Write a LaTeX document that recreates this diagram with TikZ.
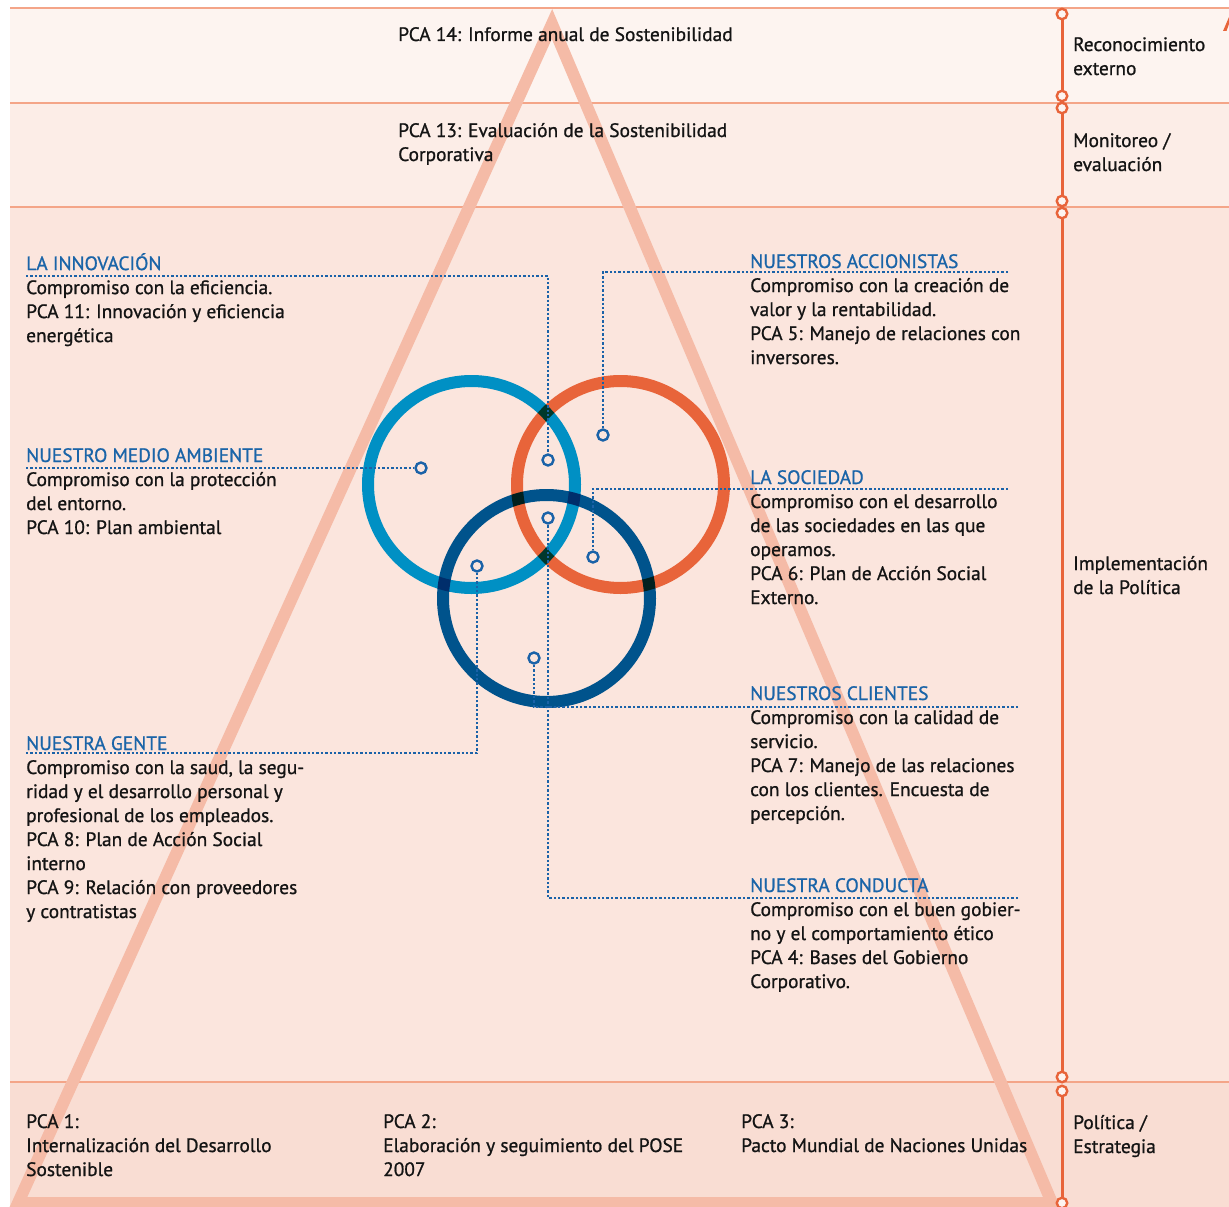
\documentclass[tikz,border=0pt]{standalone}
\usepackage{fontspec}
\setmainfont[FakeBold=0.9]{PT Sans}
\usepackage{xcolor}
\usepackage{tikz}
\usetikzlibrary{positioning,calc}

\definecolor{bandA}{HTML}{FDF4F0}
\definecolor{bandB}{HTML}{FCEDE7}
\definecolor{bandC}{HTML}{FBE5DD}
\definecolor{bandD}{HTML}{F9DDD3}
\definecolor{bandline}{HTML}{F4A588}
\definecolor{trisalmon}{HTML}{F5BBA7}
\definecolor{tlorange}{HTML}{E8643A}
\definecolor{lblue}{HTML}{0090C4}
\definecolor{corange}{HTML}{E8643A}
\definecolor{dblue}{HTML}{00538C}
\definecolor{dotblue}{HTML}{1A62A8}
\definecolor{headblue}{HTML}{1A64A8}
\definecolor{ink}{HTML}{141414}

\tikzset{
  txt/.style={anchor=north west, inner sep=0pt, align=left, text=ink,
    font=\fontsize{19.4}{24}\selectfont},
  ring/.style={circle, draw=dotblue, fill=bandC, line width=2.4pt,
    inner sep=0pt, minimum size=11pt},
  tlstop/.style={circle, draw=tlorange, fill=bandA, line width=2.4pt,
    inner sep=0pt, minimum size=10.5pt},
  conn/.style={dotblue, line width=2.4pt, dash pattern=on 2.4pt off 2pt},
  venn/.style={line width=12pt, blend mode=multiply},
}
\newcommand{\hd}[1]{\strut{\color{headblue}#1}}

\begin{document}
\begin{tikzpicture}[x=1pt,y=-1pt]
    \useasboundingbox (0,0) rectangle (1229,1207);
    \clip (0,0) rectangle (1229,1207);
    % bands
    \fill[bandA] (10,8) rectangle (1229,103);
    \fill[bandB] (10,103) rectangle (1229,207);
    \fill[bandC] (10,207) rectangle (1229,1082);
    \fill[bandD] (10,1082) rectangle (1229,1207);
    \draw[bandline, line width=2pt] (10,8) -- (1229,8);
    \foreach \y in {103,207,1082}
        \draw[bandline, line width=1.5pt] (10,\y) -- (1229,\y);
    % pyramid
    \draw[trisalmon, line width=12pt, line join=miter]
        (552,24) -- (1052,1203) -- (18,1203) -- cycle;
    % three rings
    \begin{scope}[transparency group]
        \draw[venn, lblue] (471.5,484.5) circle[radius=103.5pt];
        \draw[venn, corange] (620.5,484.5) circle[radius=103.5pt];
        \draw[venn, dblue] (546.5,598.5) circle[radius=103.5pt];
    \end{scope}
    % markers
    \node[ring] (mAmb) at (421,468) {};
    \node[ring] (mInno) at (548,460) {};
    \node[ring] (mAcc) at (603,435) {};
    \node[ring] (mCond) at (548,518) {};
    \node[ring] (mSoc) at (593,557) {};
    \node[ring] (mGen) at (477,566) {};
    \node[ring] (mCli) at (534,658) {};
    % line ends
    \coordinate (inno) at (26,276);
    \coordinate (amb) at (26,468);
    \coordinate (gen) at (26,753);
    \coordinate (acc) at (1008,272);
    \coordinate (soc) at (1008,489);
    \coordinate (cli) at (1018,707);
    \coordinate (cond) at (1018,898);
    \draw[conn] (inno) -| (mInno);
    \draw[conn] (amb) -- (mAmb);
    \draw[conn] (gen) -| (mGen);
    \draw[conn] (acc) -| (mAcc);
    \draw[conn] (soc) -| (mSoc);
    \draw[conn] (cli) -| (mCli);
    \draw[conn] (cond) -| (mCond);
    % left texts
    \node[txt] (tInno) at (26,253) {\hd{LA INNOVACIÓN}\\
        Compromiso con la eficiencia.\\
        PCA 11: Innovación y eficiencia\\
        energética};
    \node[txt] (tAmb) at (26,445) {\hd{NUESTRO MEDIO AMBIENTE}\\
        Compromiso con la protección\\
        del entorno.\\
        PCA 10: Plan ambiental};
    \node[txt] (tGen) at (26,733) {\hd{NUESTRA GENTE}\\
        Compromiso con la saud, la segu-\\
        ridad y el desarrollo personal y\\
        profesional de los empleados.\\
        PCA 8: Plan de Acción Social\\
        interno\\
        PCA 9: Relación con proveedores\\
        y contratistas};
    % right texts
    \node[txt] (tAcc) at (750,251) {\hd{NUESTROS ACCIONISTAS}\\
        Compromiso con la creación de\\
        valor y la rentabilidad.\\
        PCA 5: Manejo de relaciones con\\
        inversores.};
    \node[txt] (tSoc) at (750,467) {\hd{LA SOCIEDAD}\\
        Compromiso con el desarrollo\\
        de las sociedades en las que\\
        operamos.\\
        PCA 6: Plan de Acción Social\\
        Externo.};
    \node[txt] (tCli) at (750,683) {\hd{NUESTROS CLIENTES}\\
        Compromiso con la calidad de\\
        servicio.\\
        PCA 7: Manejo de las relaciones\\
        con los clientes. Encuesta de\\
        percepción.};
    \node[txt] (tCond) at (750,875) {\hd{NUESTRA CONDUCTA}\\
        Compromiso con el buen gobier-\\
        no y el comportamiento ético\\
        PCA 4: Bases del Gobierno\\
        Corporativo.};
    % top and bottom bands
    \node[txt] (pca14) at (398,24) {\strut PCA 14: Informe anual de Sostenibilidad};
    \node[txt] (pca13) at (398,120) {\strut PCA 13: Evaluación de la Sostenibilidad\\
        Corporativa};
    \node[txt] (pca1) at (26,1111) {\strut PCA 1:\\
        Internalización del Desarrollo\\
        Sostenible};
    \node[txt] (pca2) at (383,1111) {\strut PCA 2:\\
        Elaboración y seguimiento del POSE\\
        2007};
    \node[txt] (pca3) at (741,1111) {\strut PCA 3:\\
        Pacto Mundial de Naciones Unidas};
    % timeline
    \foreach \n/\y in {1/14,2/96,3/108,4/201,5/213,6/1077,7/1091,8/1203}
        \node[tlstop] (t\n) at (1062,\y) {};
    \foreach \a/\b in {t1/t2,t3/t4,t5/t6,t7/t8}
        \draw[tlorange, line width=3pt] (\a) -- (\b);
    \node[txt] (sRec) at (1073,34) {\strut Reconocimiento\\ externo};
    \node[txt] (sMon) at (1073,130) {\strut Monitoreo /\\ evaluación};
    \node[txt] (sImp) at (1073,553) {\strut Implementación\\ de la Política};
    \node[txt] (sPol) at (1073,1112) {\strut Política /\\ Estrategia};
    \fill[tlorange] (1223,31) -- (1229,17) -- (1229,24) -- (1226.5,31) -- cycle;
\end{tikzpicture}
\end{document}
